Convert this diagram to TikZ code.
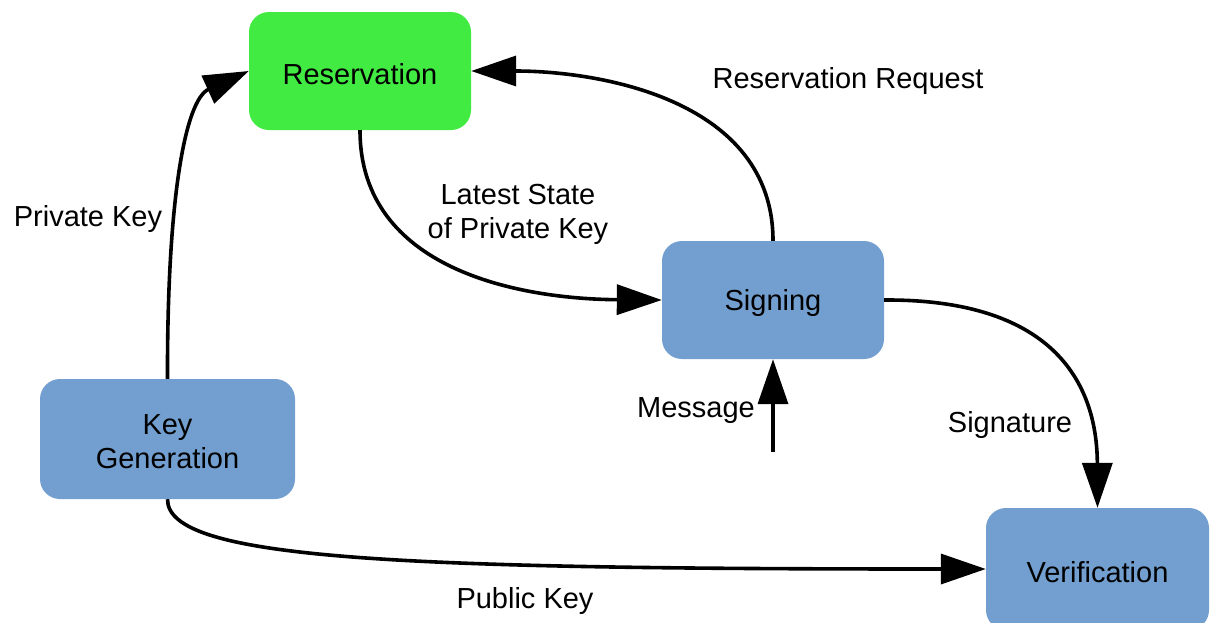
\documentclass[tikz,border=0pt]{standalone}
\usepackage{fontspec}
\setmainfont{Liberation Sans}
\usetikzlibrary{arrows.meta}
\definecolor{boxblue}{HTML}{729FCF}
\definecolor{boxgreen}{HTML}{42EB42}
\tikzset{
  stagebox/.style={rounded corners=20pt, minimum width=222pt, minimum height=118pt,
    inner sep=0pt},
  flow/.style={line width=3.6pt, -{Triangle[length=45pt,width=30pt]}},
  lbl/.style={align=center, inner sep=0pt, font=\fontsize{29}{34}\selectfont}
}
\begin{document}
\begin{tikzpicture}[x=1pt,y=-1pt]
\useasboundingbox (0,0) rectangle (1212,622);
\clip (0,0) rectangle (1212,622);

% process boxes
\node[stagebox, fill=boxgreen] (res) at (360,71) {};
\node[stagebox, fill=boxblue] (sig) at (773,300) {};
\node[stagebox, fill=boxblue, minimum width=255pt, minimum height=120pt] (kg) at (167.5,439) {};
\node[stagebox, fill=boxblue, minimum width=223pt, minimum height=122pt] (ver) at (1097.5,569) {};

% box titles
\node[lbl] (tres) at ([yshift=-3pt]res.center) {Reservation};
\node[lbl] (tsig) at ([yshift=-3pt]sig.center) {Signing};
\node[lbl] (tkg) at ([yshift=-3pt]kg.center) {Key\\Generation};
\node[lbl] (tver) at ([yshift=-3pt]ver.center) {Verification};

\coordinate (msg) at (773,452);

% connectors
\draw[flow] (kg.north) .. controls (167,200) and (185,100) .. (res.west);
\draw[flow] (res.south) .. controls (360,270) and (520,299) .. (sig.west);
\draw[flow] (sig.north) .. controls (773,100) and (600,71) .. (res.east);
\draw[flow] (sig.east) .. controls (1050,299) and (1097,380) .. (ver.north);
\draw[flow] (msg) -- (sig.south);
\draw[flow] (kg.south) .. controls (167,560) and (400,569) .. (ver.west);

% edge labels
\node[lbl] (lpriv) at (88,219) {Private Key};
\node[lbl] (llatest) at (518,214) {Latest State\\of Private Key};
\node[lbl] (lreq) at (848,81) {Reservation Request};
\node[lbl] (lmsg) at (696,411) {Message};
\node[lbl] (lsig) at (1010,425) {Signature};
\node[lbl] (lpub) at (525,601) {Public Key};
\end{tikzpicture}
\end{document}
